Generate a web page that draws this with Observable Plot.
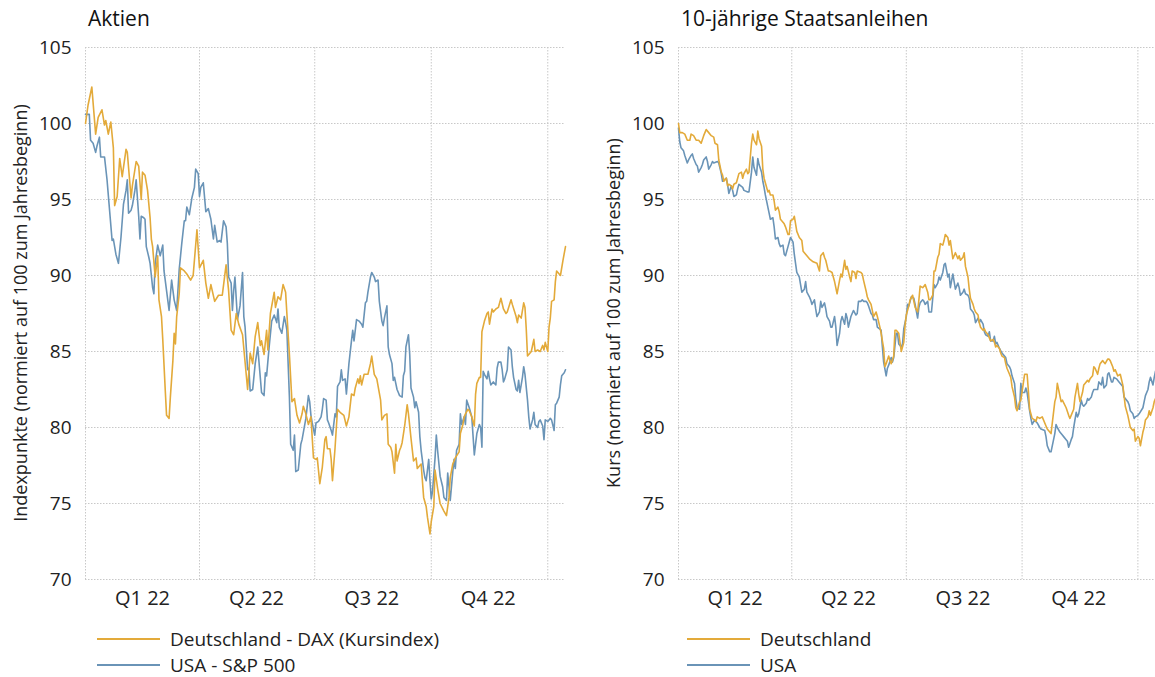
<!DOCTYPE html>
<html><head><meta charset="utf-8">
<script src="https://cdn.jsdelivr.net/npm/d3@7"></script>
<script src="https://cdn.jsdelivr.net/npm/@observablehq/plot@0.6"></script>
<style>
body{margin:0;background:#fff;font-family:"Open Sans",sans-serif;}
#root{position:relative;width:1155px;height:677px;overflow:hidden;background:#fff;}
.title{position:absolute;top:4px;font-size:21px;color:#111;white-space:nowrap;}
.ylab{position:absolute;font-size:18px;color:#222;white-space:nowrap;transform:translate(-50%,-50%) rotate(-90deg);}
.leg{position:absolute;font-size:19px;color:#222;white-space:nowrap;display:flex;align-items:center;}
.sw{width:63px;height:0;border-top:2.5px solid;margin-right:10px;}
.panel{position:absolute;top:35px;}
</style></head>
<body><div id="root"></div>
<script>
// ---- Daten: [Tage seit 1.1.2022, Wert] ----
const dax = [[0,100.0],[2,101.2],[5,102.4],[8,99.3],[10,100.4],[13,100.9],[15,99.9],[16,100.2],[18,99.3],[20,100.1],[22,98.4],[23,94.6],[25,95.2],[27,97.7],[29,96.5],[32,98.3],[33,98.1],[36,95.1],[37,95.9],[40,97.5],[42,97.2],[44,95.0],[45,96.8],[47,96.6],[49,95.6],[51,93.8],[52,92.4],[53,91.9],[55,89.9],[57,91.3],[58,88.4],[60,87.3],[61,85.8],[63,82.4],[64,80.8],[66,80.6],[67,82.0],[69,84.4],[70,86.2],[71,85.5],[72,87.3],[74,88.8],[75,90.5],[78,90.3],[80,90.1],[83,89.7],[85,90.0],[88,93.0],[90,90.5],[93,91.0],[95,89.5],[97,88.5],[99,89.4],[102,88.3],[105,88.7],[108,88.7],[111,90.7],[113,89.0],[115,86.4],[117,86.1],[119,87.5],[121,86.8],[124,86.1],[128,82.5],[130,84.9],[132,84.2],[134,86.0],[136,86.9],[138,85.4],[139,85.7],[141,84.8],[143,86.4],[144,85.1],[146,87.5],[149,88.9],[150,87.9],[152,88.6],[154,88.4],[156,89.4],[158,88.9],[159,87.5],[161,84.8],[163,81.7],[165,81.9],[167,80.8],[169,80.3],[171,80.9],[172,81.4],[174,80.9],[176,80.2],[178,80.7],[180,78.0],[182,77.9],[183,78.0],[185,76.3],[187,77.4],[189,79.2],[190,79.4],[191,78.6],[193,78.6],[194,77.9],[195,76.5],[197,78.6],[199,81.2],[201,81.0],[204,80.8],[206,80.1],[208,80.7],[210,82.2],[212,82.1],[213,82.6],[215,83.2],[216,82.9],[217,83.4],[218,82.8],[220,83.5],[223,83.5],[225,84.2],[226,84.7],[228,83.5],[230,83.2],[233,81.8],[234,80.5],[236,80.8],[238,80.9],[239,78.9],[241,78.7],[242,78.4],[244,77.0],[245,78.9],[246,77.8],[248,78.5],[249,78.7],[250,79.0],[252,80.1],[254,81.5],[255,80.9],[257,79.3],[259,77.8],[261,78.0],[262,77.3],[265,77.6],[267,75.4],[269,74.8],[270,74.1],[272,73.0],[273,73.8],[275,74.8],[276,77.2],[278,76.0],[280,75.0],[283,74.5],[285,74.2],[287,75.4],[288,76.7],[290,77.6],[292,78.0],[295,78.4],[296,79.6],[298,80.2],[299,80.7],[300,80.9],[302,81.2],[303,81.1],[305,80.7],[307,80.1],[308,82.2],[309,82.9],[311,83.3],[312,83.3],[313,86.3],[315,87.0],[317,87.5],[318,87.6],[319,86.8],[321,87.8],[322,87.6],[324,87.8],[326,87.9],[328,88.5],[330,87.8],[332,87.5],[333,87.6],[336,88.4],[337,88.1],[340,87.3],[341,86.9],[342,87.4],[344,87.2],[346,88.2],[347,87.9],[348,86.5],[349,84.7],[351,84.9],[352,85.0],[354,85.8],[355,85.0],[357,85.1],[359,85.0],[361,85.4],[362,85.1],[363,85.6],[365,85.0],[366,86.6],[367,87.2],[368,88.3],[370,88.4],[371,89.6],[372,90.3],[374,90.1],[375,90.0],[377,91.0],[379,91.9]];
const sp500 = [[0,100.6],[3,100.6],[4,98.9],[6,98.7],[8,98.1],[9,98.5],[11,99.1],[12,97.8],[15,97.8],[17,96.3],[19,94.3],[21,92.3],[22,92.4],[24,91.4],[26,90.8],[28,92.5],[30,94.7],[32,95.6],[33,96.3],[34,94.1],[36,94.3],[37,94.6],[39,95.6],[40,96.3],[42,93.9],[43,92.4],[44,93.9],[46,93.8],[47,93.7],[48,91.9],[50,91.2],[51,90.8],[53,89.2],[54,88.8],[55,90.8],[57,92.0],[59,91.3],[61,92.0],[62,90.3],[64,89.0],[66,87.7],[68,89.7],[70,88.4],[72,87.7],[74,90.4],[76,92.1],[78,93.6],[79,93.6],[80,94.5],[82,94.0],[84,95.1],[86,95.8],[87,97.0],[89,96.7],[90,95.2],[91,95.8],[93,96.1],[95,94.2],[97,94.4],[99,93.7],[101,92.4],[102,93.3],[104,92.2],[106,92.3],[107,92.2],[109,93.6],[111,93.2],[112,92.1],[113,89.9],[115,89.5],[116,87.7],[117,89.0],[118,89.9],[120,87.1],[122,88.0],[124,90.2],[125,87.3],[126,86.6],[128,83.8],[129,83.9],[130,82.4],[132,82.5],[134,84.2],[136,85.3],[138,83.3],[139,82.3],[141,82.1],[142,83.6],[143,83.4],[145,85.3],[147,87.0],[149,87.4],[151,86.9],[152,87.8],[153,86.6],[155,86.2],[157,87.3],[158,86.9],[159,86.4],[161,82.0],[162,78.9],[164,78.5],[165,79.5],[166,77.1],[168,77.2],[170,78.9],[171,79.2],[174,80.6],[176,82.1],[177,81.7],[178,80.8],[179,80.3],[181,79.5],[182,80.3],[184,80.4],[186,80.7],[187,81.2],[188,81.9],[190,81.8],[191,80.5],[192,80.3],[194,79.8],[195,79.5],[197,80.9],[198,80.7],[199,82.7],[201,83.0],[202,83.8],[203,83.1],[205,83.2],[206,82.2],[208,84.2],[210,85.7],[211,86.4],[212,85.7],[214,87.1],[216,87.0],[218,86.8],[219,86.6],[221,88.2],[222,88.3],[223,88.9],[225,89.9],[226,90.2],[228,89.9],[229,89.6],[231,89.7],[232,88.3],[234,87.0],[235,86.7],[236,87.2],[238,88.0],[239,85.3],[240,84.8],[242,84.2],[243,83.1],[244,83.3],[246,82.5],[247,82.3],[248,82.1],[250,82.0],[251,83.4],[252,83.7],[253,85.3],[255,86.1],[256,84.8],[257,82.6],[259,82.0],[260,81.3],[261,81.7],[263,81.0],[264,79.4],[265,78.5],[267,77.2],[268,76.7],[269,76.5],[271,77.9],[272,76.5],[273,75.3],[274,75.8],[276,78.0],[277,79.5],[278,78.5],[280,76.8],[282,76.1],[283,75.4],[285,75.2],[286,77.0],[287,76.1],[288,75.2],[290,77.1],[291,77.9],[292,77.3],[293,78.5],[295,78.9],[296,80.9],[297,80.2],[299,80.7],[300,80.2],[301,81.8],[303,81.3],[304,81.0],[305,80.7],[307,78.2],[308,78.9],[309,79.6],[311,80.2],[312,80.0],[313,78.7],[314,83.7],[315,83.5],[317,83.2],[318,83.7],[319,83.2],[320,82.8],[322,83.0],[324,82.8],[325,83.9],[326,84.3],[328,84.3],[329,83.8],[330,83.0],[331,83.2],[333,83.8],[334,85.3],[336,85.1],[337,84.0],[338,83.3],[340,82.5],[341,82.4],[342,83.1],[343,82.3],[345,83.3],[346,84.0],[347,83.5],[349,81.8],[350,80.7],[351,79.9],[353,80.5],[354,81.0],[355,80.2],[357,80.0],[358,80.4],[359,80.5],[361,80.1],[362,79.2],[363,80.5],[365,80.4],[366,80.5],[367,80.6],[368,80.5],[370,79.8],[371,81.5],[372,81.6],[374,82.0],[375,82.8],[376,83.4],[378,83.6],[379,83.8]];
const bundDE = [[0,100.0],[1,99.4],[3,99.4],[5,99.3],[7,98.9],[9,98.9],[10,99.3],[12,99.2],[14,98.9],[16,98.9],[18,98.7],[20,99.2],[22,99.6],[24,99.4],[26,99.2],[28,99.1],[29,98.7],[31,98.6],[32,97.6],[34,96.8],[35,96.6],[36,96.2],[38,96.4],[39,95.9],[40,96.0],[42,95.9],[43,95.7],[44,96.0],[46,96.1],[47,96.4],[48,96.7],[50,96.8],[51,96.4],[52,96.7],[54,97.0],[55,96.7],[56,96.8],[58,98.7],[59,99.3],[60,98.9],[62,98.6],[63,99.5],[64,99.0],[66,98.5],[67,97.0],[68,96.4],[69,96.1],[71,95.5],[72,95.6],[73,95.3],[75,95.3],[76,94.9],[77,94.3],[79,94.5],[80,94.2],[81,93.7],[83,93.5],[84,93.4],[85,93.2],[87,92.7],[88,92.7],[89,93.6],[91,93.7],[92,93.9],[94,92.9],[96,92.5],[98,92.3],[99,91.6],[101,91.4],[103,91.2],[104,91.1],[107,90.9],[110,90.8],[112,90.3],[113,91.3],[115,91.5],[116,91.2],[117,91.0],[119,90.3],[120,90.3],[122,90.2],[123,89.9],[124,89.6],[126,88.8],[128,89.7],[129,90.1],[130,89.9],[132,91.0],[133,90.4],[134,90.6],[136,89.9],[137,89.6],[138,90.3],[140,90.2],[141,89.8],[142,90.3],[145,90.2],[146,90.1],[147,89.7],[149,89.0],[150,88.6],[151,88.4],[153,88.1],[154,87.7],[155,87.3],[157,87.6],[158,87.3],[160,86.6],[161,86.2],[163,85.2],[164,84.0],[165,84.2],[167,84.7],[168,84.4],[169,84.2],[171,84.7],[172,86.4],[173,86.4],[175,86.2],[176,85.6],[177,85.0],[179,85.6],[180,86.7],[181,87.4],[183,88.0],[184,88.4],[186,88.7],[188,87.9],[190,87.6],[191,88.4],[192,89.3],[194,89.2],[195,89.3],[196,89.4],[198,88.9],[199,88.4],[200,88.4],[202,88.7],[203,90.3],[204,90.3],[206,91.2],[207,91.4],[208,92.1],[210,92.0],[211,92.3],[212,92.7],[214,92.5],[215,92.0],[216,92.3],[218,91.1],[219,91.3],[220,91.5],[222,91.1],[223,91.3],[224,91.0],[226,91.2],[227,91.5],[228,90.6],[230,89.9],[231,89.1],[232,88.5],[234,88.1],[235,87.8],[236,87.6],[238,87.4],[239,86.9],[240,86.6],[242,86.4],[243,86.5],[244,86.3],[246,86.1],[247,85.9],[248,85.7],[250,85.8],[251,85.6],[252,85.3],[253,85.4],[255,85.2],[256,84.9],[257,84.7],[259,84.6],[260,84.2],[261,83.9],[263,83.5],[264,83.3],[265,82.7],[267,82.0],[268,81.3],[269,81.1],[271,81.7],[272,81.8],[275,83.5],[277,83.5],[278,82.4],[279,81.2],[281,80.6],[283,80.5],[284,80.4],[285,80.7],[287,80.6],[289,80.7],[292,80.1],[293,79.9],[296,79.6],[299,81.7],[300,82.0],[301,82.9],[303,82.1],[304,81.7],[305,81.8],[308,81.3],[310,80.8],[311,80.6],[314,81.2],[315,82.0],[317,82.9],[318,82.2],[319,81.7],[321,82.3],[322,82.8],[323,82.9],[325,83.1],[326,83.0],[327,83.2],[329,83.4],[330,84.0],[331,83.9],[333,83.5],[334,83.9],[335,84.2],[337,84.4],[338,84.3],[339,84.2],[341,84.5],[342,84.5],[343,84.4],[345,84.0],[346,83.7],[347,83.8],[349,83.4],[351,83.5],[353,82.8],[354,82.1],[355,81.4],[357,80.8],[358,80.4],[359,80.0],[361,79.8],[362,79.9],[363,79.1],[365,79.4],[366,79.3],[367,78.8],[369,79.7],[370,80.0],[371,80.5],[373,80.7],[374,81.1],[375,80.8],[377,81.3],[378,81.7],[379,81.9]];
const bondUSA = [[0,99.7],[1,98.8],[2,98.4],[4,98.2],[5,97.9],[7,97.4],[8,97.6],[10,97.9],[11,98.0],[12,97.7],[14,97.3],[15,97.2],[16,96.8],[18,97.1],[19,97.3],[20,97.6],[22,97.8],[23,97.5],[24,97.0],[26,97.3],[27,97.5],[28,97.4],[31,97.5],[32,97.4],[34,96.7],[35,96.2],[38,96.4],[39,96.0],[40,95.4],[42,95.9],[43,95.6],[44,95.2],[46,95.3],[47,95.7],[48,96.0],[51,95.8],[52,95.6],[55,95.5],[56,95.5],[58,96.8],[59,97.8],[60,97.1],[62,96.6],[63,97.7],[64,97.3],[66,96.8],[67,96.2],[68,95.8],[69,95.3],[71,94.5],[72,94.1],[73,93.7],[75,93.8],[76,93.2],[77,92.4],[79,92.5],[80,92.1],[81,91.9],[83,92.0],[84,91.4],[85,91.3],[87,91.9],[88,92.2],[89,92.5],[91,92.2],[92,91.4],[93,90.8],[94,90.2],[96,89.9],[97,89.4],[98,88.9],[100,89.1],[101,89.6],[102,88.9],[104,88.6],[105,88.4],[106,88.1],[108,88.4],[109,87.8],[110,87.3],[112,87.6],[113,88.3],[114,87.9],[116,88.2],[117,87.8],[118,87.3],[120,87.0],[121,86.6],[122,86.6],[124,87.3],[125,86.6],[126,85.4],[128,86.2],[129,87.0],[130,87.3],[132,86.8],[133,87.5],[134,87.2],[135,86.6],[137,87.3],[138,87.5],[139,87.7],[141,87.4],[142,87.5],[143,88.3],[145,88.3],[146,88.4],[147,88.3],[149,88.3],[150,88.2],[151,88.0],[153,87.5],[154,87.4],[155,87.1],[157,87.1],[158,86.6],[161,86.4],[162,85.3],[163,84.3],[165,83.4],[166,83.9],[167,84.1],[169,84.6],[170,84.3],[171,84.6],[173,86.2],[174,86.2],[175,85.5],[177,85.3],[178,85.5],[179,86.5],[181,87.3],[182,88.1],[183,88.0],[185,88.6],[187,88.5],[188,88.1],[190,87.2],[191,87.9],[192,88.2],[194,88.4],[195,88.3],[196,88.1],[198,88.3],[199,87.6],[201,87.6],[203,89.4],[204,89.2],[206,89.5],[207,89.9],[208,89.7],[210,90.2],[211,90.7],[212,90.8],[214,89.9],[215,90.1],[216,89.2],[218,90.1],[219,89.6],[220,89.1],[222,89.5],[223,89.2],[224,88.7],[226,88.9],[227,89.1],[228,88.8],[230,88.7],[231,88.5],[232,87.8],[234,87.6],[235,87.4],[236,86.9],[238,87.2],[239,86.9],[240,87.1],[242,86.8],[243,86.3],[244,86.1],[246,86.0],[247,86.3],[248,85.7],[250,85.7],[251,86.0],[252,85.5],[253,85.6],[255,85.2],[257,84.9],[259,84.7],[260,84.6],[261,84.2],[263,84.0],[264,83.8],[265,83.4],[267,82.9],[268,81.9],[269,81.3],[271,81.2],[272,82.9],[273,82.3],[275,82.3],[276,82.6],[277,82.3],[279,81.1],[280,80.6],[281,80.2],[283,80.5],[285,80.3],[287,80.0],[288,79.9],[291,79.8],[292,79.4],[293,78.8],[295,78.4],[296,78.4],[299,79.6],[300,80.2],[301,80.0],[303,79.7],[304,79.6],[305,79.5],[306,79.4],[308,79.2],[309,79.1],[310,78.7],[312,79.2],[313,79.4],[314,80.0],[316,81.0],[317,80.7],[318,80.9],[320,81.8],[321,81.5],[322,81.4],[324,81.6],[325,81.9],[326,81.8],[328,82.0],[329,82.3],[330,82.5],[333,82.5],[334,83.0],[336,82.8],[337,83.3],[338,82.6],[340,82.8],[341,83.5],[342,83.6],[344,83.0],[345,83.0],[346,83.3],[348,83.2],[350,83.0],[353,82.7],[354,82.0],[355,81.9],[357,81.7],[358,81.5],[359,81.1],[361,80.9],[362,80.6],[363,80.7],[365,80.8],[366,80.9],[369,81.3],[370,81.7],[371,82.1],[373,82.5],[374,83.0],[375,83.3],[377,82.8],[378,83.3],[379,83.7]];

const yTicks = [70, 75, 80, 85, 90, 95, 100, 105];
const quartalsLabels = ["Q1 22", "Q2 22", "Q3 22", "Q4 22"];
const quartalsMitteTage = [45, 135, 226, 318];
const quartalsGrenzenTage = [0, 90, 181, 273, 365];
const endTag = 379;

const farbeDE = "#E3AA3A";
const farbeUS = "#6A94B7";

const start = Date.UTC(2022, 0, 1);
const toDate = d => new Date(start + d * 864e5);
const rows = arr => arr.map(([t, v]) => ({date: toDate(t), value: v}));
const labelMap = new Map(quartalsMitteTage.map((t, i) => [+toDate(t), quartalsLabels[i]]));

function panel(gold, blue, width, marginLeft, marginRight) {
  return Plot.plot({
    width, height: 585,
    marginTop: 12, marginBottom: 41, marginLeft, marginRight,
    style: {fontFamily: "Open Sans, sans-serif", fontSize: "18px", color: "#222", background: "transparent", overflow: "visible"},
    x: {type: "utc", domain: [toDate(0), toDate(endTag)]},
    y: {domain: [70, 105]},
    marks: [
      Plot.ruleY(yTicks, {stroke: "#c8c8c8", strokeDasharray: "1.5,1.5", strokeWidth: 1}),
      Plot.ruleX(quartalsGrenzenTage.map(toDate), {stroke: "#c8c8c8", strokeDasharray: "1.5,1.5", strokeWidth: 1}),
      Plot.axisY(yTicks, {tickSize: 0, tickPadding: 14, label: null, fontSize: 19}),
      Plot.axisX(quartalsMitteTage.map(toDate), {tickSize: 0, tickPadding: 11, label: null, fontSize: 20,
        tickFormat: d => labelMap.get(+d)}),
      Plot.line(rows(blue), {x: "date", y: "value", stroke: farbeUS, strokeWidth: 1.6}),
      Plot.line(rows(gold), {x: "date", y: "value", stroke: farbeDE, strokeWidth: 1.6})
    ]
  });
}

const root = document.getElementById("root");
function add(html) { const d = document.createElement("div"); d.innerHTML = html; root.appendChild(d.firstElementChild); }

const p1 = panel(dax, sp500, 577, 85, 12);
p1.classList.add("panel"); p1.style.left = "0px";
root.appendChild(p1);
const p2 = panel(bundDE, bondUSA, 578, 101, 0);
p2.classList.add("panel"); p2.style.left = "577px";
root.appendChild(p2);

add('<div class="title" style="left:88px">Aktien</div>');
add('<div class="title" style="left:681px">10-jährige Staatsanleihen</div>');
add('<div class="ylab" style="left:20px;top:313px">Indexpunkte (normiert auf 100 zum Jahresbeginn)</div>');
add('<div class="ylab" style="left:613px;top:313px">Kurs (normiert auf 100 zum Jahresbeginn)</div>');
add(`<div class="leg" style="left:97px;top:626px"><div class="sw" style="border-color:${farbeDE}"></div>Deutschland - DAX (Kursindex)</div>`);
add(`<div class="leg" style="left:97px;top:652px"><div class="sw" style="border-color:${farbeUS}"></div>USA - S&amp;P 500</div>`);
add(`<div class="leg" style="left:687px;top:626px"><div class="sw" style="border-color:${farbeDE}"></div>Deutschland</div>`);
add(`<div class="leg" style="left:687px;top:652px"><div class="sw" style="border-color:${farbeUS}"></div>USA</div>`);
</script>
</body></html>
